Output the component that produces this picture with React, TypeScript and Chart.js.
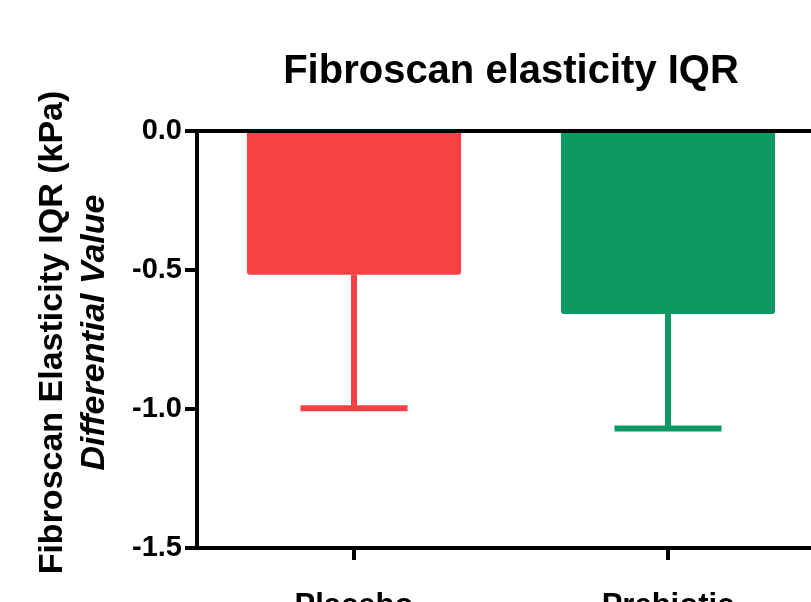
import React, { useEffect, useRef } from 'react';
import { Chart, registerables } from 'chart.js';

Chart.register(...registerables);

const categories = ['Placebo', 'Prebiotic'];
const meanValues = [-0.517, -0.658];
const errorLowValues = [-0.997, -1.07];
const barColors = ['#F84144', '#0D9A62'];
const yTickValues = [0, -0.5, -1.0, -1.5];
const chartTitle = 'Fibroscan elasticity IQR';
const yTitleLines = ['Fibroscan Elasticity IQR (kPa)', 'Differential Value'];

const FONT = 'Arial, "Liberation Sans", Helvetica, sans-serif';
const CW = 860;
const CH = 660;

const decorPlugin = {
  id: 'decor',
  afterDatasetsDraw(chart: any) {
    const ctx = chart.ctx;
    const meta = chart.getDatasetMeta(0);
    const yScale = chart.scales.y;
    ctx.save();
    ctx.lineCap = 'butt';
    meta.data.forEach((el: any, i: number) => {
      const yErr = yScale.getPixelForValue(errorLowValues[i]);
      const x = el.x;
      const half = el.width * 0.25;
      ctx.strokeStyle = barColors[i];
      ctx.lineWidth = 6;
      ctx.beginPath();
      ctx.moveTo(x, el.y);
      ctx.lineTo(x, yErr);
      ctx.stroke();
      ctx.beginPath();
      ctx.moveTo(x - half, yErr);
      ctx.lineTo(x + half, yErr);
      ctx.stroke();
    });
    ctx.restore();
  },
  afterDraw(chart: any) {
    const ctx = chart.ctx;
    const area = chart.chartArea;
    ctx.save();
    ctx.fillStyle = '#000';
    // main title
    ctx.font = `bold 40px ${FONT}`;
    ctx.textAlign = 'center';
    ctx.textBaseline = 'alphabetic';
    ctx.fillText(chartTitle, (area.left + area.right) / 2, area.top - 48);
    // y-axis title (two lines, rotated)
    const cy = (area.top + area.bottom) / 2 - 7;
    const fonts = [`bold 34px ${FONT}`, `italic bold 34px ${FONT}`];
    const offsets = [area.left - 135, area.left - 93];
    yTitleLines.forEach((line, i) => {
      ctx.save();
      ctx.translate(offsets[i], cy);
      ctx.rotate(-Math.PI / 2);
      ctx.font = fonts[i];
      ctx.textAlign = 'center';
      ctx.textBaseline = 'alphabetic';
      ctx.fillText(line, 0, 0);
      ctx.restore();
    });
    ctx.restore();
  },
};

export default function App() {
  const canvasRef = useRef<HTMLCanvasElement | null>(null);

  useEffect(() => {
    if (!canvasRef.current) return;
    const chart = new Chart(canvasRef.current, {
      type: 'bar',
      data: {
        labels: categories,
        datasets: [
          {
            data: meanValues,
            backgroundColor: barColors,
            borderWidth: 0,
            borderRadius: 3,
            barPercentage: 0.682,
            categoryPercentage: 1,
          },
        ],
      },
      options: {
        animation: false,
        responsive: false,
        devicePixelRatio: 1,
        layout: { padding: { top: 131, left: 0, right: CW - 825, bottom: 0 } },
        plugins: {
          legend: { display: false },
          tooltip: { enabled: false },
          title: { display: false },
        },
        scales: {
          x: {
            offset: true,
            afterFit: (s: any) => {
              s.height = CH - 548;
            },
            grid: {
              offset: false,
              drawOnChartArea: false,
              drawTicks: true,
              tickLength: 12,
              lineWidth: 4,
              color: '#000',
            },
            border: { display: true, color: '#000', width: 4 },
            ticks: {
              color: '#000',
              padding: 28,
              font: { family: FONT, size: 31, weight: 'bold' },
            },
          },
          y: {
            min: -1.5,
            max: 0,
            afterFit: (s: any) => {
              s.width = 197;
            },
            afterBuildTicks: (s: any) => {
              s.ticks = yTickValues.map((v) => ({ value: v }));
            },
            grid: {
              drawOnChartArea: true,
              drawTicks: true,
              tickLength: 12,
              lineWidth: 4,
              color: (c: any) => (c.tick && c.tick.value === 0 ? '#000' : 'rgba(0,0,0,0)'),
              tickColor: '#000',
            },
            border: { display: true, color: '#000', width: 4 },
            ticks: {
              color: '#000',
              padding: 3,
              font: { family: FONT, size: 29, weight: 'bold' },
              callback: (v: any) => Number(v).toFixed(1),
            },
          },
        },
      },
      plugins: [decorPlugin],
    } as any);
    return () => chart.destroy();
  }, []);

  return (
    <div
      style={{
        position: 'fixed',
        left: 0,
        top: 0,
        width: 811,
        height: 602,
        overflow: 'hidden',
        background: '#fff',
      }}
    >
      <canvas
        ref={canvasRef}
        width={CW}
        height={CH}
        style={{ display: 'block', width: CW, height: CH }}
      />
    </div>
  );
}
